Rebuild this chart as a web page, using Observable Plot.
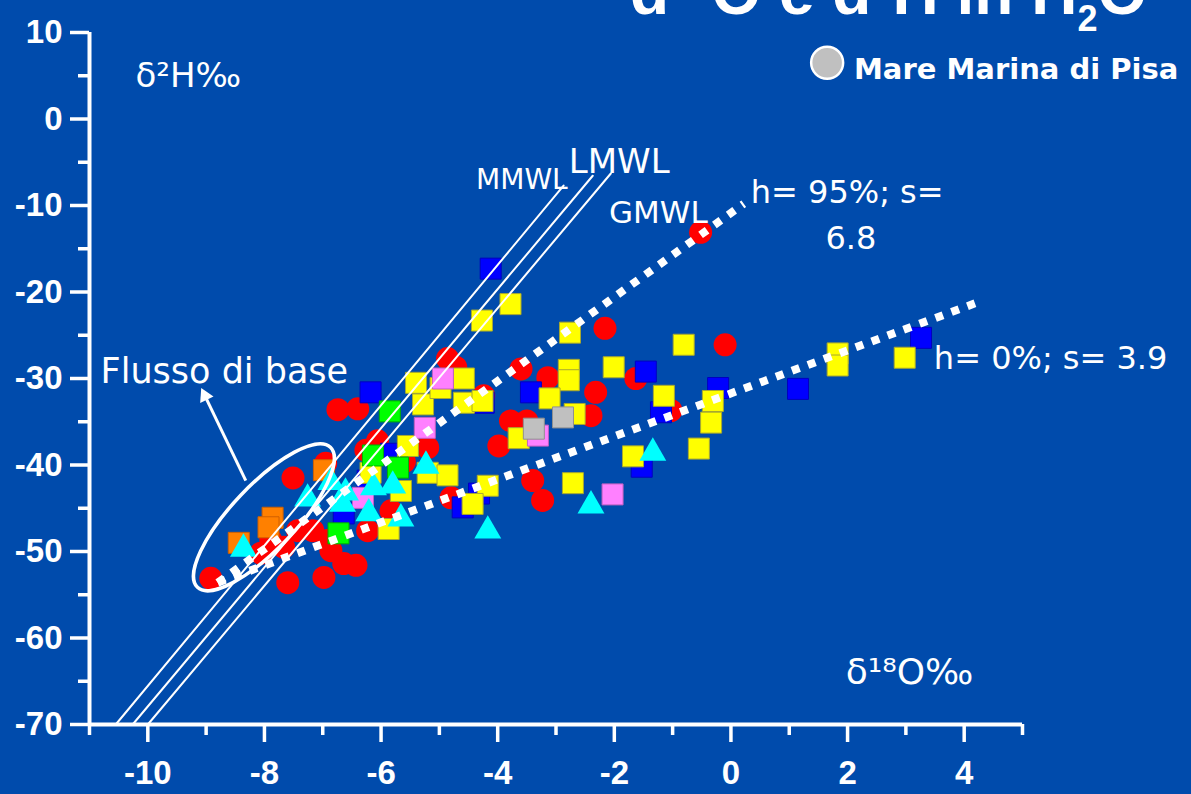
<!DOCTYPE html>
<html><head><meta charset="utf-8">
<script src="https://cdn.jsdelivr.net/npm/d3@7"></script>
<script src="https://cdn.jsdelivr.net/npm/@observablehq/plot@0.6"></script>
<style>
html,body{margin:0;padding:0;background:#004BAC;overflow:hidden;width:1191px;height:794px}
#wrap{position:relative;width:1191px;height:794px}
#chart{position:absolute;left:0;top:0}
#title{position:absolute;left:630px;top:-40px;font:bold 64px "Liberation Sans",Arial,sans-serif;color:#fff;white-space:nowrap;line-height:64px}
#title sup{font-size:38px;line-height:0;vertical-align:26px}
#title sub{font-size:36px;line-height:0;vertical-align:-17px}
</style></head>
<body><div id="wrap"><div id="title">d<sup>18</sup>O e d<sup>2</sup>H in H<sub>2</sub>O</div><div id="chart"></div></div>
<script>
// Data (δ18O ‰, δ2H ‰)
const red = [[-0.52,-13.1],[-2.16,-24.2],[-0.10,-26.1],[-4.86,-27.7],[-4.72,-28.7],[-3.60,-28.9],[-3.14,-29.9],[-1.63,-30.0],[-2.32,-31.6],[-1.03,-33.7],[-2.40,-34.3],[-3.78,-34.9],[-3.50,-34.9],[-3.98,-37.8],[-4.24,-32.0],[-6.74,-33.6],[-6.40,-33.5],[-6.06,-37.2],[-6.26,-38.3],[-5.20,-38.0],[-3.40,-41.8],[-3.23,-44.1],[-4.80,-43.8],[-7.51,-41.5],[-6.95,-39.8],[-5.83,-45.3],[-6.23,-47.6],[-6.90,-48.7],[-8.92,-53.1],[-7.60,-53.6],[-6.98,-53.0],[-6.64,-51.4],[-6.43,-51.6],[-7.43,-47.6],[-7.17,-47.6],[-7.67,-49.5],[-8.06,-50.2],[-7.89,-48.7],[-6.86,-49.9],[-5.60,-39.6]];
const blue = [[-4.12,-17.3],[-6.18,-31.6],[-3.43,-31.6],[-1.46,-29.2],[-1.20,-33.9],[-0.22,-31.1],[-1.53,-40.2],[1.15,-31.2],[3.26,-25.3],[-5.83,-38.7],[-6.23,-41.8],[-6.64,-45.6],[-4.32,-43.3],[-4.60,-44.9],[-4.24,-32.8]];
const yellow = [[-3.78,-21.4],[-4.27,-23.3],[-2.76,-24.7],[-0.81,-26.1],[-2.78,-29.0],[-2.78,-30.2],[-2.01,-28.7],[-1.15,-32.0],[-3.11,-32.3],[-2.68,-34.1],[-3.64,-36.9],[-1.68,-39.0],[-0.55,-38.1],[-0.31,-32.6],[-0.34,-35.1],[-2.71,-42.1],[-4.17,-42.4],[-4.43,-44.5],[1.83,-27.1],[1.83,-28.5],[2.98,-27.6],[-5.40,-30.5],[-5.28,-33.0],[-4.98,-31.1],[-4.58,-30.0],[-4.58,-32.8],[-4.26,-32.6],[-5.54,-37.8],[-5.20,-40.9],[-4.86,-41.2],[-5.66,-43.0],[-5.87,-47.4],[-6.18,-40.9]];
const pink = [[-4.94,-30.0],[-5.25,-35.7],[-3.31,-36.6],[-2.03,-43.4],[-6.31,-43.8]];
const gray = [[-2.88,-34.5],[-3.38,-35.8]];
const green = [[-5.85,-33.8],[-6.14,-38.9],[-5.71,-40.3],[-6.73,-47.9]];
const orange = [[-6.98,-40.6],[-7.86,-46.1],[-7.93,-47.2],[-8.44,-49.0]];
const cyan = [[-1.34,-38.6],[-2.40,-44.7],[-4.17,-47.6],[-5.23,-40.1],[-6.13,-42.6],[-5.80,-42.4],[-6.21,-45.6],[-5.66,-46.2],[-6.86,-42.0],[-7.26,-43.9],[-6.61,-43.2],[-6.66,-44.5],[-8.36,-49.7]];
const seaWater = [[1.65,6.5]];

// Meteoric water lines and evaporation lines (end points)
const mmwl = [[-10.55,-70],[-2.87,-7.7]];
const lmwl = [[-10.26,-70],[-2.37,-6.56]];
const gmwl = [[-10.0,-70],[-2.06,-6.3]];
const evap95 = [[-8.8,-53.6],[0.22,-9.8]];
const evap0 = [[-8.8,-53.6],[4.23,-21.2]];

// "Flusso di base" ellipse (ends of major axis) and arrow
const ellipseTips = [[-9.14,-54.2],[-6.86,-38.0]];
const arrowSeg = [{x1:-8.32, y1:-41.8, x2:-9.02, y2:-32.0}];
const arrowHead = [[-9.02,-32.0]];

// Axis ticks
const xMajor = [-10,-8,-6,-4,-2,0,2,4];
const xMinor = [-11,-9,-7,-5,-3,-1,1,3,5];
const yMajor = [-70,-60,-50,-40,-30,-20,-10,0,10];
const yMinor = [-65,-55,-45,-35,-25,-15,-5,5];

const W = "#ffffff";
const comic = "'DejaVu Sans', 'Noto Sans', sans-serif";
const px = d => d[0], py = d => d[1];

function ellipseMark(index, scales) {
  const sx = scales.x, sy = scales.y;
  const [a, b] = ellipseTips.map(([x, y]) => [sx(x), sy(y)]);
  const cx = (a[0]+b[0])/2, cy = (a[1]+b[1])/2;
  const rx = Math.hypot(b[0]-a[0], b[1]-a[1])/2;
  const ang = Math.atan2(b[1]-a[1], b[0]-a[0])*180/Math.PI;
  const el = document.createElementNS("http://www.w3.org/2000/svg", "ellipse");
  el.setAttribute("cx", cx); el.setAttribute("cy", cy);
  el.setAttribute("rx", rx); el.setAttribute("ry", 32);
  el.setAttribute("transform", `rotate(${ang} ${cx} ${cy})`);
  el.setAttribute("fill", "none"); el.setAttribute("stroke", W); el.setAttribute("stroke-width", 3.5);
  return el;
}

const sq = (data, fill, stroke) => Plot.dot(data, {x: px, y: py, symbol: "square", r: 11.85, fill, stroke, strokeWidth: 1});

const chart = Plot.plot({
  width: 1191, height: 794,
  marginLeft: 89, marginRight: 169, marginTop: 32, marginBottom: 70,
  x: {domain: [-11, 5], label: null},
  y: {domain: [-70, 10], label: null},
  style: {background: "transparent", color: "white", fontFamily: "'Liberation Sans', Arial, sans-serif", overflow: "visible"},
  marks: [
    Plot.dot(red, {x: px, y: py, r: 11.5, fill: "#FF0000"}),
    sq(blue, "#0000FF", "#0000c0"),
    sq(yellow, "#FFFF00", "#a8a830"),
    sq(pink, "#FF80FF", "#c060c0"),
    sq(gray, "#C0C0C0", "#909090"),
    sq(green, "#00FF00", "#00b000"),
    sq(orange, "#FF8000", "#d06000"),
    Plot.dot(cyan, {x: px, y: py, symbol: "triangle", r: 10, fill: "#00FFFF"}),
    Plot.line(mmwl, {x: px, y: py, stroke: W, strokeWidth: 2}),
    Plot.line(lmwl, {x: px, y: py, stroke: W, strokeWidth: 2}),
    Plot.line(gmwl, {x: px, y: py, stroke: W, strokeWidth: 2}),
    Plot.line(evap95, {x: px, y: py, stroke: W, strokeWidth: 8, strokeDasharray: "8,9", strokeLinecap: "butt"}),
    Plot.line(evap0, {x: px, y: py, stroke: W, strokeWidth: 8, strokeDasharray: "8,9", strokeLinecap: "butt"}),
    ellipseMark,
    Plot.link(arrowSeg, {x1: "x1", y1: "y1", x2: "x2", y2: "y2", stroke: W, strokeWidth: 3}),
    Plot.dot(arrowHead, {x: px, y: py, symbol: "triangle", r: 5.5, rotate: -26, fill: W}),
    // axes
    Plot.ruleX([-11], {y1: -70, y2: 10, stroke: W, strokeWidth: 4}),
    Plot.ruleY([-70], {x1: -11, x2: 5, stroke: W, strokeWidth: 4}),
    Plot.axisY(yMajor, {tickSize: 19, tickPadding: 8, fontSize: 33, fontWeight: "bold", strokeWidth: 3.5, tickFormat: d => String(d)}),
    Plot.axisY(yMinor, {tickSize: 11, strokeWidth: 3.5, tickFormat: () => ""}),
    Plot.axisX(xMajor, {tickSize: 18, tickPadding: 18, fontSize: 33, fontWeight: "bold", strokeWidth: 3.5, tickFormat: d => String(d)}),
    Plot.axisX(xMinor, {tickSize: 11, strokeWidth: 3.5, tickFormat: () => ""}),
    // annotations
    Plot.text(["δ²H‰"], {x: -10.21, y: 3.7, textAnchor: "start", lineAnchor: "bottom", fontSize: 34, fontFamily: comic, fill: W}),
    Plot.text(["δ¹⁸O‰"], {x: 1.97, y: -65.3, textAnchor: "start", lineAnchor: "bottom", fontSize: 36, fontFamily: comic, fill: W}),
    Plot.text(["MMWL"], {x: -4.37, y: -8.1, textAnchor: "start", lineAnchor: "bottom", fontSize: 28, fontFamily: comic, fill: W}),
    Plot.text(["LMWL"], {x: -2.78, y: -6.2, textAnchor: "start", lineAnchor: "bottom", fontSize: 34, fontFamily: comic, fill: W}),
    Plot.text(["GMWL"], {x: -2.09, y: -12.0, textAnchor: "start", lineAnchor: "bottom", fontSize: 31, fontFamily: comic, fill: W}),
    Plot.text(["h= 95%; s="], {x: 0.34, y: -9.7, textAnchor: "start", lineAnchor: "bottom", fontSize: 32, fontFamily: "'DejaVu Sans', sans-serif", fill: W}),
    Plot.text(["6.8"], {x: 1.62, y: -15.0, textAnchor: "start", lineAnchor: "bottom", fontSize: 32, fontFamily: "'DejaVu Sans', sans-serif", fill: W}),
    Plot.text(["h= 0%; s= 3.9"], {x: 3.48, y: -28.9, textAnchor: "start", lineAnchor: "bottom", fontSize: 32, fontFamily: "'DejaVu Sans', sans-serif", fill: W}),
    Plot.text(["Flusso di base"], {x: -10.81, y: -30.5, textAnchor: "start", lineAnchor: "bottom", fontSize: 35, fontFamily: comic, fill: W}),
    Plot.dot(seaWater, {x: px, y: py, r: 16, fill: "#C0C0C0", stroke: W, strokeWidth: 2.5}),
    Plot.text(["Mare Marina di Pisa"], {x: 2.11, y: 4.65, textAnchor: "start", lineAnchor: "bottom", fontSize: 29, fontWeight: "bold", fontFamily: comic, fill: W})
  ]
});
document.getElementById("chart").appendChild(chart);
</script>
</body></html>
